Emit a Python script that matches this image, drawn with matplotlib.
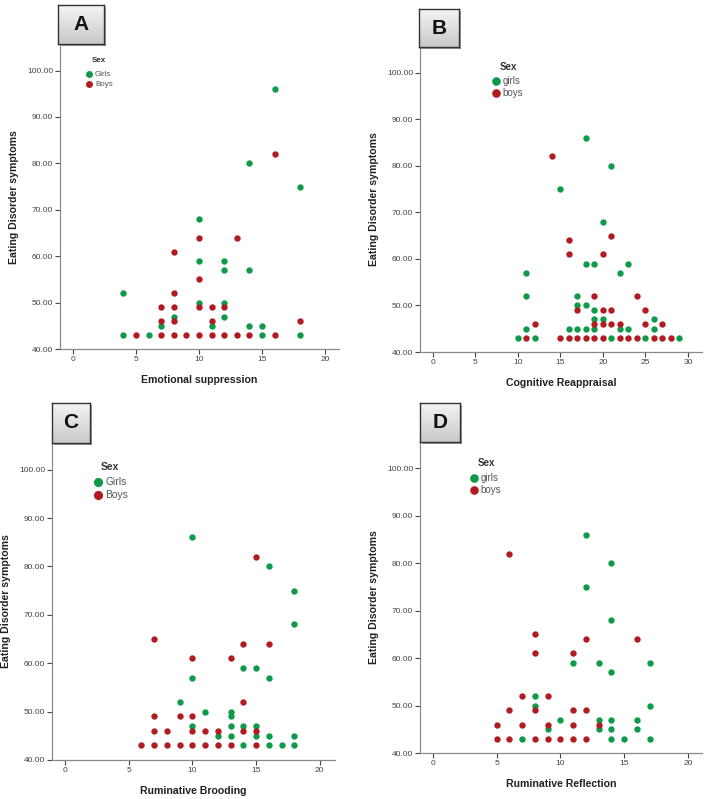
import numpy as np
import matplotlib
matplotlib.use("Agg")
import matplotlib.pyplot as plt
from matplotlib.lines import Line2D
from matplotlib.patches import Rectangle

plt.rcParams['font.family'] = ['Liberation Sans', 'DejaVu Sans']

W, H = 708, 799
GREEN = "#0e9a48"
RED = "#b01c1f"

# Panel A: Emotional suppression
a_girls_x = [16, 14, 18, 10, 10, 12, 12, 14, 4, 10, 12, 8, 12, 7, 11, 14, 15, 4, 6, 15, 18]
a_girls_y = [96, 80, 75, 68, 59, 59, 57, 57, 52, 50, 50, 47, 47, 45, 45, 45, 45, 43, 43, 43, 43]
a_boys_x = [16, 10, 13, 8, 10, 8, 7, 8, 10, 11, 12, 7, 8, 11, 18,
            5, 7, 8, 9, 10, 11, 12, 13, 14, 16]
a_boys_y = [82, 64, 64, 61, 55, 52, 49, 49, 49, 49, 49, 46, 46, 46, 46,
            43, 43, 43, 43, 43, 43, 43, 43, 43, 43]

# Panel B: Cognitive Reappraisal
b_girls_x = [18, 21, 15, 20, 18, 19, 23, 11, 22, 11, 17, 17, 18, 19, 19, 20, 26,
             11, 16, 17, 18, 19, 22, 23, 26, 10, 12, 21, 25, 29]
b_girls_y = [86, 80, 75, 68, 59, 59, 59, 57, 57, 52, 52, 50, 50, 49, 47, 47, 47,
             45, 45, 45, 45, 45, 45, 45, 45, 43, 43, 43, 43, 43]
b_boys_x = [14, 21, 16, 16, 20, 19, 24, 17, 20, 21, 25, 12, 19, 20, 21, 22, 25, 27,
            11, 15, 16, 17, 18, 19, 20, 22, 23, 24, 26, 27, 28]
b_boys_y = [82, 65, 64, 61, 61, 52, 52, 49, 49, 49, 49, 46, 46, 46, 46, 46, 46, 46,
            43, 43, 43, 43, 43, 43, 43, 43, 43, 43, 43, 43, 43]

# Panel C: Ruminative Brooding
c_girls_x = [10, 16, 18, 18, 14, 15, 10, 16, 9, 11, 13, 13, 10, 13, 14, 15,
             12, 13, 15, 16, 18, 14, 16, 17, 18]
c_girls_y = [86, 80, 75, 68, 59, 59, 57, 57, 52, 50, 50, 49, 47, 47, 47, 47,
             45, 45, 45, 45, 45, 43, 43, 43, 43]
c_boys_x = [15, 7, 14, 16, 10, 13, 14, 7, 9, 10, 7, 8, 10, 11, 12, 14, 15,
            6, 7, 8, 9, 10, 11, 12, 13, 15]
c_boys_y = [82, 65, 64, 64, 61, 61, 52, 49, 49, 49, 46, 46, 46, 46, 46, 46, 46,
            43, 43, 43, 43, 43, 43, 43, 43, 43]

# Panel D: Ruminative Reflection
d_girls_x = [12, 14, 12, 14, 11, 13, 17, 14, 8, 8, 17, 10, 13, 14, 16,
             9, 13, 14, 16, 7, 14, 15, 17]
d_girls_y = [86, 80, 75, 68, 59, 59, 59, 57, 52, 50, 50, 47, 47, 47, 47,
             45, 45, 45, 45, 43, 43, 43, 43]
d_boys_x = [6, 8, 12, 16, 8, 11, 7, 9, 6, 8, 11, 12, 5, 7, 9, 11, 13,
            5, 6, 8, 9, 10, 11, 12]
d_boys_y = [82, 65, 64, 64, 61, 61, 52, 52, 49, 49, 49, 49, 46, 46, 46, 46, 46,
            43, 43, 43, 43, 43, 43, 43]

y_ticks = [40, 50, 60, 70, 80, 90, 100]

fig = plt.figure(figsize=(W / 100, H / 100), dpi=100)


def fx(px):
    return px / W


def fy(py):
    return 1 - py / H


def panel(box, xlim, xticks, gx, gy, bx, by, xlabel):
    left, top, right, bottom = box
    ax = fig.add_axes([fx(left), fy(bottom), (right - left) / W, (bottom - top) / H])
    ax.scatter(gx, gy, s=21, color=GREEN, linewidths=0, zorder=3, clip_on=False)
    ax.scatter(bx, by, s=21, color=RED, linewidths=0, zorder=3, clip_on=False)
    ax.set_xlim(*xlim)
    ax.set_ylim(40, 105.5)
    ax.set_xticks(xticks)
    ax.set_yticks(y_ticks)
    ax.set_yticklabels([f"{v:.2f}" for v in y_ticks])
    for s in ["top", "right"]:
        ax.spines[s].set_visible(False)
    for s in ["left", "bottom"]:
        ax.spines[s].set_color("#8a8a8a")
        ax.spines[s].set_linewidth(0.9)
    ax.tick_params(axis="both", labelsize=6, colors="#444444", length=3.5,
                   width=0.8, pad=1.5)
    ax.set_xlabel(xlabel, fontsize=7.6, fontweight="bold", color="#222222")
    ax.set_ylabel("Eating Disorder symptoms", fontsize=7.6, fontweight="bold",
                  color="#222222")
    ax.xaxis.set_label_coords(0.5, -26 / (bottom - top))
    ax.yaxis.set_label_coords(-41 / (right - left), 0.5)
    return ax


def letter_box(letter, box):
    left, top, right, bottom = box
    shadow = Rectangle((fx(left + 2), fy(bottom + 2)), (right - left) / W,
                       (bottom - top) / H, transform=fig.transFigure,
                       facecolor="#9a9a9a", edgecolor="none", zorder=5)
    fig.add_artist(shadow)
    bax = fig.add_axes([fx(left), fy(bottom), (right - left) / W, (bottom - top) / H])
    grad = np.linspace(0, 1, 64).reshape(-1, 1)
    bax.imshow(grad, cmap=matplotlib.colors.LinearSegmentedColormap.from_list(
        "g", ["#f4f4f4", "#c9c9c9"]), aspect="auto", extent=[0, 1, 0, 1])
    bax.set_xticks([])
    bax.set_yticks([])
    for s in bax.spines.values():
        s.set_color("#333333")
        s.set_linewidth(1.0)
    bax.text(0.5, 0.5, letter, fontsize=15, fontweight="bold", ha="center",
             va="center", color="#111111", transform=bax.transAxes)
    bax.set_zorder(6)


def legend(sex_xy, g_xy, b_xy, labels, msize, fsize):
    fig.text(fx(sex_xy[0]), fy(sex_xy[1]), "Sex", fontsize=fsize,
             fontweight="bold", ha="center", va="center", color="#333333")
    for (mx, my), lab, col in zip([g_xy, b_xy], labels, [GREEN, RED]):
        fig.add_artist(Line2D([fx(mx)], [fy(my)], marker="o", markersize=msize,
                              color=col, markeredgewidth=0, linestyle="none",
                              transform=fig.transFigure))
        fig.text(fx(mx + msize * 0.7 + 2.5), fy(my), lab, fontsize=fsize,
                 ha="left", va="center", color="#555555")


panel((60, 45, 339, 349), (-1.03, 21.1), [0, 5, 10, 15, 20],
      a_girls_x, a_girls_y, a_boys_x, a_boys_y, "Emotional suppression")
panel((420, 47, 702, 352), (-1.53, 31.65), [0, 5, 10, 15, 20, 25, 30],
      b_girls_x, b_girls_y, b_boys_x, b_boys_y, "Cognitive Reappraisal")
panel((52, 443, 335, 760), (-1.02, 21.2), [0, 5, 10, 15, 20],
      c_girls_x, c_girls_y, c_boys_x, c_boys_y, "Ruminative Brooding")
panel((420, 442, 702, 753), (-1.02, 21.1), [0, 5, 10, 15, 20],
      d_girls_x, d_girls_y, d_boys_x, d_boys_y, "Ruminative Reflection")

legend((99, 61), (89, 74), (89, 84), ["Girls", "Boys"], 5.0, 5.8)
legend((508, 67), (496, 81), (496, 93), ["girls", "boys"], 6.2, 7.0)
legend((110, 467), (98, 482), (98, 495), ["Girls", "Boys"], 6.6, 7.4)
legend((486, 463), (474, 478), (474, 490), ["girls", "boys"], 6.2, 7.0)

letter_box("A", (58, 5, 104, 44))
letter_box("B", (419, 9, 459, 47))
letter_box("C", (52, 403, 90, 443))
letter_box("D", (420, 403, 460, 442))

fig.savefig("out.png", dpi=100)
